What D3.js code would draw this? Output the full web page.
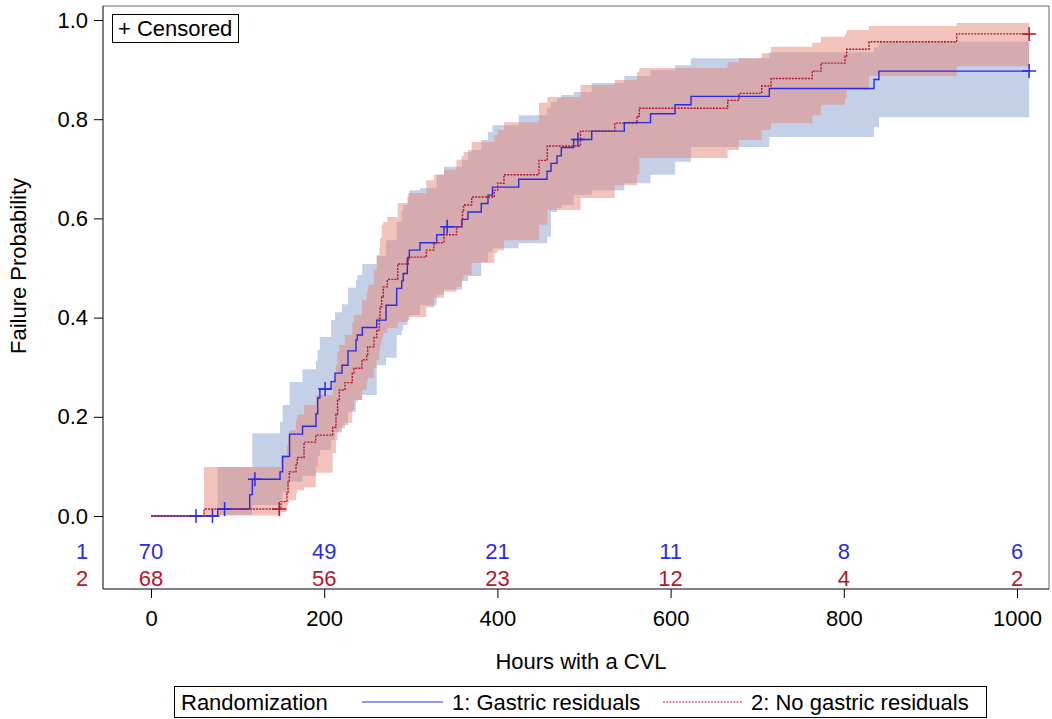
<!DOCTYPE html>
<html lang="en">
<head>
<meta charset="utf-8">
<title>Failure Probability</title>
<script src="https://d3js.org/d3.v7.min.js" charset="utf-8"></script>
<style>
  body { margin: 0; background: #fff; }
  text { font-family: "Liberation Sans", Arial, sans-serif; }
</style>
</head>
<body>
<script type="text/javascript">

 // Step curves: [hours, failure probability]
 var gastricSteps = [[0,0],[77,0.014],[114,0.043],[117,0.074],[149,0.089],[152,0.120],[160,0.165],
     [175,0.181],[190.5,0.206],[192.5,0.238],[195,0.256],[208,0.271],[212.5,0.288],[220.5,0.304],
     [227.5,0.333],[236.7,0.355],[238.2,0.365],[244,0.380],[260.6,0.395],[271.4,0.425],[283.7,0.459],
     [289.5,0.474],[291.3,0.489],[296,0.520],[298.3,0.536],[310.6,0.551],[329.9,0.567],[338.3,0.583],
     [359.1,0.598],[366,0.613],[381.4,0.630],[389.1,0.647],[394.3,0.663],[424.6,0.679],[457.3,0.695],
     [461.9,0.711],[468.8,0.726],[473.8,0.743],[488.1,0.759],[508.9,0.776],[546.5,0.793],[576.8,0.811],
     [605.1,0.829],[623.6,0.846],[714,0.862],[834.9,0.880],[840.6,0.897],[1014,0.897]];

 var noGastricSteps = [[0,0],[61.2,0.014],[150.1,0.029],[157,0.046],[158.2,0.071],[159.7,0.089],
     [167.4,0.103],[168.9,0.118],[176.7,0.149],[190.2,0.163],[209.8,0.179],[213.6,0.205],[215.4,0.235],
     [217.4,0.254],[224,0.269],[232.4,0.288],[234.4,0.298],[243.6,0.315],[249,0.325],[250.2,0.341],
     [257.5,0.360],[260.6,0.375],[263.6,0.399],[264.4,0.422],[266.4,0.442],[268.2,0.462],[272.9,0.477],
     [284.9,0.508],[297.1,0.522],[317.9,0.536],[326.8,0.551],[338.3,0.567],[352.8,0.583],[358.8,0.598],
     [359.7,0.613],[360.9,0.627],[370.3,0.643],[396.4,0.657],[400.3,0.671],[407.6,0.688],[448,0.717],
     [457.6,0.746],[496,0.776],[535.5,0.792],[561.2,0.806],[563.9,0.822],[665.9,0.838],[679,0.852],
     [705.2,0.867],[716,0.882],[763.6,0.897],[773.7,0.913],[801.4,0.927],[803.3,0.941],[829.1,0.956],
     [930.4,0.972],[1014,0.972]];

 // Confidence bands: [hours, lower, upper]
 var gastricBand = [[77,0.002,0.099],[117,0.022,0.167],[149,0.032,0.190],[152,0.048,0.224],
     [160,0.069,0.270],[175,0.081,0.296],[190.5,0.101,0.313],[192.5,0.121,0.335],[195,0.133,0.361],
     [208,0.153,0.395],[212.5,0.169,0.411],[220.5,0.183,0.427],[227.5,0.210,0.460],[236.7,0.230,0.476],
     [238.2,0.234,0.486],[244,0.244,0.508],[260.6,0.304,0.524],[271.4,0.319,0.556],[283.7,0.365,0.593],
     [289.5,0.375,0.617],[291.3,0.385,0.627],[296,0.395,0.643],[298.3,0.405,0.657],[310.6,0.425,0.661],
     [329.9,0.446,0.688],[338.3,0.456,0.704],[359.1,0.474,0.718],[366,0.484,0.738],[381.4,0.512,0.758],
     [389.1,0.532,0.774],[394.3,0.540,0.788],[424.6,0.550,0.808],[457.3,0.563,0.823],[461.9,0.613,0.835],
     [468.8,0.621,0.843],[473.8,0.627,0.849],[488.1,0.647,0.855],[508.9,0.657,0.873],[546.5,0.671,0.887],
     [576.8,0.688,0.899],[605.1,0.714,0.909],[623.6,0.744,0.923],[714,0.764,0.935],[834.9,0.784,0.945],
     [840.6,0.804,0.956],[1014,0.804,0.956]];

 var noGastricBand = [[61.2,0.001,0.099],[150.1,0.008,0.123],[157,0.022,0.143],[158.2,0.026,0.159],
     [159.7,0.032,0.173],[167.4,0.046,0.194],[168.9,0.052,0.204],[176.7,0.058,0.224],[190.2,0.087,0.244],
     [209.8,0.127,0.274],[213.6,0.153,0.304],[215.4,0.169,0.331],[217.4,0.177,0.345],[224,0.188,0.365],
     [232.4,0.214,0.391],[234.4,0.234,0.405],[243.6,0.254,0.435],[249,0.268,0.452],[250.2,0.278,0.466],
     [257.5,0.298,0.496],[260.6,0.315,0.526],[263.6,0.331,0.542],[264.4,0.345,0.560],[266.4,0.359,0.587],
     [268.2,0.369,0.593],[272.9,0.379,0.603],[284.9,0.391,0.631],[297.1,0.401,0.651],[317.9,0.421,0.677],
     [326.8,0.440,0.688],[338.3,0.452,0.698],[352.8,0.462,0.718],[358.8,0.476,0.726],[360.9,0.486,0.734],
     [370.3,0.510,0.754],[396.4,0.530,0.768],[400.3,0.536,0.778],[407.6,0.556,0.794],[448,0.587,0.833],
     [457.6,0.617,0.845],[496,0.641,0.869],[535.5,0.667,0.879],[561.2,0.688,0.895],[563.9,0.722,0.903],
     [665.9,0.738,0.915],[679,0.758,0.923],[705.2,0.778,0.933],[716,0.792,0.946],[763.6,0.808,0.954],
     [773.7,0.829,0.966],[801.4,0.843,0.972],[803.3,0.859,0.980],[829.1,0.887,0.988],[930.4,0.907,0.994],
     [1014,0.907,0.994]];

 // Censored observations: [hours, failure probability]
 var gastricCensored = [[52,0],[71,0],[85,0.014],[120,0.074],[201,0.256],[342,0.583],[493,0.759],[1014,0.897]];
 var noGastricCensored = [[148,0.014],[1014,0.972]];

 // Number at risk
 var riskTimes = [0, 200, 400, 600, 800, 1000];
 var riskGastric = [70, 49, 21, 11, 8, 6];
 var riskNoGastric = [68, 56, 23, 12, 4, 2];

 var xTicks = [0, 200, 400, 600, 800, 1000];
 var yTicks = [0, 0.2, 0.4, 0.6, 0.8, 1.0];

 var blue = "#2b2be3";
 var red = "#b5152c";
 var fontSize = "22px";

 var svg = d3.select("body")
	     .append("svg")
	     .attr("width", 1052)
	     .attr("height", 719);

 var xScale = d3.scaleLinear().domain([0, 1000]).range([151, 1017]);
 var yScale = d3.scaleLinear().domain([0, 1]).range([516, 20]);

 var plot = {left: 103, right: 1049, top: 6, bottom: 589};

 //Bands
 var band = d3.area()
	      .curve(d3.curveStepAfter)
	      .x(function (d) { return xScale(d[0]); })
	      .y0(function (d) { return yScale(d[1]); })
	      .y1(function (d) { return yScale(d[2]); });

 svg.append("path")
    .attr("d", band(gastricBand))
    .attr("fill", "#8a9fd2")
    .attr("fill-opacity", 0.5);

 svg.append("path")
    .attr("d", band(noGastricBand))
    .attr("fill", "#e58775")
    .attr("fill-opacity", 0.5);

 //Step lines
 var step = d3.line()
	      .curve(d3.curveStepAfter)
	      .x(function (d) { return xScale(d[0]); })
	      .y(function (d) { return yScale(d[1]); });

 svg.append("path")
    .attr("d", step(gastricSteps))
    .attr("fill", "none")
    .attr("stroke", blue)
    .attr("stroke-width", 1.4);

 svg.append("path")
    .attr("d", step(noGastricSteps))
    .attr("fill", "none")
    .attr("stroke", red)
    .attr("stroke-width", 1.4)
    .attr("stroke-dasharray", "2,1.2");

 //Censor marks
 function plus(sel, data, color) {
     sel.selectAll(null)
	.data(data)
	.enter()
	.append("path")
	.attr("d", function (d) {
	    var cx = xScale(d[0]), cy = yScale(d[1]);
	    return "M" + (cx - 7) + "," + cy + "H" + (cx + 7) + "M" + cx + "," + (cy - 7) + "V" + (cy + 7);
	})
	.attr("stroke", color)
	.attr("stroke-width", 1.5)
	.attr("fill", "none");
 }
 plus(svg.append("g"), gastricCensored, blue);
 plus(svg.append("g"), noGastricCensored, red);

 //Frame
 svg.append("line")
    .attr("x1", plot.left).attr("x2", plot.right)
    .attr("y1", plot.top).attr("y2", plot.top)
    .attr("stroke", "#6a6a6a");
 svg.append("line")
    .attr("x1", plot.right).attr("x2", plot.right)
    .attr("y1", plot.top).attr("y2", plot.bottom)
    .attr("stroke", "#6a6a6a");

 //Y axis
 var yAxis = svg.append("g")
		.attr("transform", "translate(" + plot.left + ",0)")
		.call(d3.axisLeft(yScale).tickValues(yTicks).tickFormat(d3.format(".1f")).tickSize(9).tickPadding(6));
 yAxis.select(".domain").attr("d", "M0," + plot.top + "V" + plot.bottom);

 //X axis
 var xAxis = svg.append("g")
		.attr("transform", "translate(0," + plot.bottom + ")")
		.call(d3.axisBottom(xScale).tickValues(xTicks).tickFormat(d3.format("d")).tickSize(9).tickPadding(12));
 xAxis.select(".domain").attr("d", "M" + plot.left + ",0H" + plot.right);

 svg.selectAll(".tick text")
    .attr("font-family", "Liberation Sans, Arial, sans-serif")
    .attr("font-size", fontSize)
    .attr("fill", "#000");
 svg.selectAll(".tick line, .domain").attr("stroke", "#000");

 //Axis titles
 svg.append("text")
    .attr("x", 581)
    .attr("y", 669)
    .attr("text-anchor", "middle")
    .style("font-size", fontSize)
    .text("Hours with a CVL");

 svg.append("text")
    .attr("transform", "translate(26,266) rotate(-90)")
    .attr("text-anchor", "middle")
    .style("font-size", fontSize)
    .text("Failure Probability");

 //At risk table
 function riskRow(values, label, color, yPos) {
     svg.append("text")
	.attr("x", 82).attr("y", yPos)
	.attr("text-anchor", "middle")
	.attr("fill", color)
	.style("font-size", fontSize)
	.text(label);
     svg.append("g").selectAll("text")
	.data(values)
	.enter()
	.append("text")
	.attr("x", function (d, i) { return xScale(riskTimes[i]); })
	.attr("y", yPos)
	.attr("text-anchor", "middle")
	.attr("fill", color)
	.style("font-size", fontSize)
	.text(function (d) { return d; });
 }
 riskRow(riskGastric, "1", blue, 559);
 riskRow(riskNoGastric, "2", red, 586);

 //Censored legend
 svg.append("rect")
    .attr("x", 112.5).attr("y", 14.5)
    .attr("width", 126).attr("height", 28)
    .attr("fill", "#fff")
    .attr("stroke", "#000");
 svg.append("text")
    .attr("x", 118).attr("y", 36)
    .style("font-size", fontSize)
    .text("+ Censored");

 //Group legend
 svg.append("rect")
    .attr("x", 174.5).attr("y", 686.5)
    .attr("width", 812).attr("height", 31)
    .attr("fill", "#fff")
    .attr("stroke", "#000");
 svg.append("text")
    .attr("x", 181).attr("y", 710)
    .style("font-size", fontSize)
    .text("Randomization");
 svg.append("line")
    .attr("x1", 362).attr("x2", 443).attr("y1", 702).attr("y2", 702)
    .attr("stroke", blue).attr("stroke-width", 1.2);
 svg.append("text")
    .attr("x", 452).attr("y", 710)
    .style("font-size", fontSize)
    .text("1: Gastric residuals");
 svg.append("line")
    .attr("x1", 663).attr("x2", 743).attr("y1", 702).attr("y2", 702)
    .attr("stroke", red).attr("stroke-width", 1.2)
    .attr("stroke-dasharray", "2,1.2");
 svg.append("text")
    .attr("x", 751).attr("y", 710)
    .style("font-size", fontSize)
    .text("2: No gastric residuals");

</script>
</body>
</html>
